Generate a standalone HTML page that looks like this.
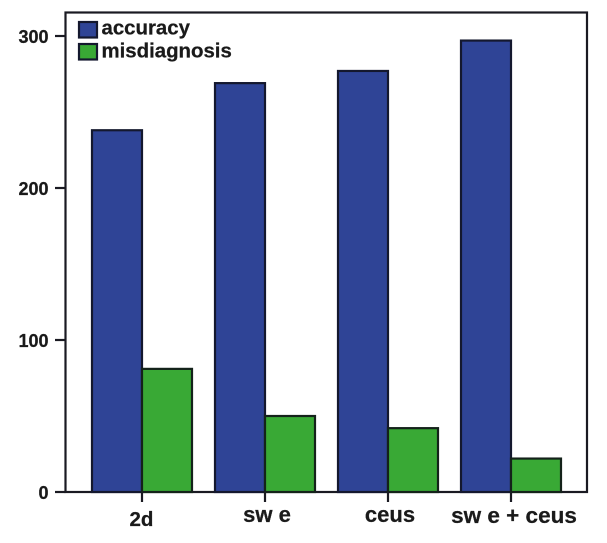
<!DOCTYPE html>
<html>
<head>
<meta charset="utf-8">
<style>
html,body{margin:0;padding:0;background:#fff;width:607px;height:543px;overflow:hidden}
svg{display:block}
text{font-family:"Liberation Sans",Arial,sans-serif;font-weight:700;fill:#1a1a1a;stroke:#1a1a1a;stroke-width:.25px}
</style>
</head>
<body>
<svg id="chart" xmlns="http://www.w3.org/2000/svg" width="607" height="543" viewBox="0 0 607 543"></svg>
<script>
const categories = ['2d', 'sw e', 'ceus', 'sw e + ceus'];
const accuracy = [238, 269, 277, 297];
const misdiagnosis = [81, 50, 42, 22];
const yTicks = [0, 100, 200, 300];

const NS = 'http://www.w3.org/2000/svg';
const svg = document.getElementById('chart');
const plot = {left: 65.5, right: 587, top: 12.5, bottom: 492};
const firstCenter = 142, step = 123, barW = 50;
const labelLayout = [{dx: -0.5, y: 526, size: 20.5}, {dx: 2, y: 522, size: 22}, {dx: 2, y: 522, size: 22}, {dx: 3, y: 523, size: 22.5}];
const yScale = v => plot.bottom - v * 1.52;
const xScale = i => firstCenter + i * step;

function make(tag, attrs, parent) {
  const el = document.createElementNS(NS, tag);
  for (const k in attrs) el.setAttribute(k, attrs[k]);
  (parent || svg).appendChild(el);
  return el;
}

const lineColor = '#1a1a22';

const frame = make('rect', {x: plot.left, y: plot.top, width: plot.right - plot.left, height: plot.bottom - plot.top, fill: '#fff', stroke: lineColor, 'stroke-width': 2.2});



yTicks.forEach(v => {
  const tick = make('line', {x1: 55, x2: plot.left, y1: yScale(v), y2: yScale(v), stroke: lineColor, 'stroke-width': 2.2});
  
  
  const label = make('text', {x: 48.5, y: yScale(v) + 7, 'text-anchor': 'end', 'font-size': 18});
  
  
  label.textContent = v;
});

categories.forEach((c, i) => {
  const cx = xScale(i);
  const a = make('rect', {x: cx - barW, y: yScale(accuracy[i]), width: barW, height: plot.bottom - yScale(accuracy[i]), fill: '#2f4496', stroke: '#14182e', 'stroke-width': 2.2});
  
  
  const m = make('rect', {x: cx, y: yScale(misdiagnosis[i]), width: barW, height: plot.bottom - yScale(misdiagnosis[i]), fill: '#39a935', stroke: '#14221a', 'stroke-width': 2.2});
  
  
  const tick = make('line', {x1: cx, x2: cx, y1: plot.bottom, y2: 502, stroke: lineColor, 'stroke-width': 2.2});
  
  
  const lay = labelLayout[i];
  const label = make('text', {x: cx + lay.dx, y: lay.y, 'text-anchor': 'middle', 'font-size': lay.size});
  
  
  label.textContent = c;
});

const legendItems = [['accuracy', '#2f4496', 22, 34.5], ['misdiagnosis', '#39a935', 44, 57.5]];
legendItems.forEach(item => {
  const swatch = make('rect', {x: 79, y: item[2], width: 18, height: 15.5, fill: item[1], stroke: '#14182e', 'stroke-width': 2.2});
  
  
  const label = make('text', {x: 101.5, y: item[3], 'font-size': 20.4});
  
  
  label.textContent = item[0];
});
</script>
</body>
</html>
